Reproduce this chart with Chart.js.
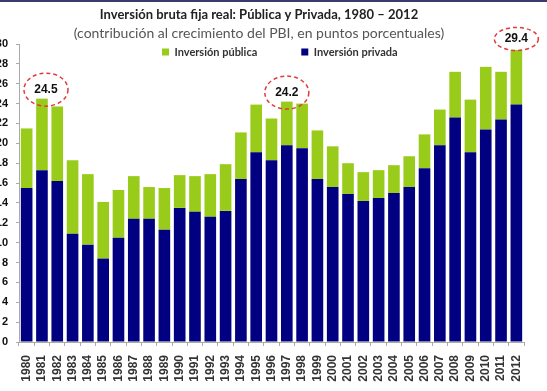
<!DOCTYPE html>
<html>
<head>
<meta charset="utf-8">
<script src="https://cdn.jsdelivr.net/npm/chart.js@4.4.1/dist/chart.umd.min.js"></script>
<style>
  html, body { margin: 0; padding: 0; background: #fff; overflow: hidden; }
  #wrap { width: 547px; height: 389px; border-top: 2px solid #3b3b6b; overflow: hidden; position: relative; }
  #chart { position: absolute; left: -6px; top: 0; }
</style>
</head>
<body>
<div id="wrap"><canvas id="chart" width="553" height="389"></canvas></div>
<script>
// Data
const years = ["1980","1981","1982","1983","1984","1985","1986","1987","1988","1989",
  "1990","1991","1992","1993","1994","1995","1996","1997","1998","1999",
  "2000","2001","2002","2003","2004","2005","2006","2007","2008","2009",
  "2010","2011","2012"];

const privada = [15.5,17.3,16.2,10.9,9.8,8.4,10.5,12.4,12.4,11.3,
  13.5,13.1,12.6,13.2,16.4,19.1,18.3,19.8,19.5,16.4,
  15.6,14.9,14.2,14.5,15.0,15.6,17.5,19.8,22.6,19.1,
  21.4,22.4,23.9];

const publica = [6.0,7.2,7.5,7.4,7.1,5.7,4.8,4.3,3.2,4.2,
  3.3,3.6,4.3,4.7,4.7,4.8,4.2,4.4,4.5,4.9,
  4.1,3.1,2.9,2.8,2.8,3.1,3.4,3.6,4.6,5.3,
  6.3,4.8,5.5];

const yTicks = [0,2,4,6,8,10,12,14,16,18,20,22,24,26,28,30];
const highlightYears = ["1981","1997","2012"];

const titleText = "Inversión bruta fija real: Pública y Privada, 1980 – 2012";
const subtitleText = "(contribución al crecimiento del PBI, en puntos porcentuales)";

// Legend overlaps the top of the plot in the original slide:
// let it take no room in the layout, then place it before drawing
const legendOverPlot = {
  id: "legendOverPlot",
  beforeLayout(chart) {
    const lg = chart.legend;
    if (!lg || lg.$flat) return;
    lg.$flat = true;
    const origFit = lg.fit;
    lg.fit = function () {
      origFit.call(this);
      this.height = 0;
    };
  },
  beforeDraw(chart) {
    const lg = chart.legend;
    if (!lg) return;
    const pad = lg.options.labels.padding;
    const fs = lg.options.labels.font.size;
    lg.left = 168 - pad;
    lg.right = chart.width;
    lg.width = lg.right - lg.left;
    lg.top = 50 - pad - fs / 2;
    lg.height = 2 * pad + fs + 2;
    lg.bottom = lg.top + lg.height;
  }
};

// Dashed red ellipses with the peak totals
const peakLabels = {
  id: "peakLabels",
  afterDatasetsDraw(chart) {
    const ctx = chart.ctx;
    const meta = chart.getDatasetMeta(1);
    highlightYears.forEach(function (yr) {
      const i = years.indexOf(yr);
      const bar = meta.data[i];
      if (!bar) return;
      const total = (privada[i] + publica[i]).toFixed(1);
      const last = i === years.length - 1;
      const cx = bar.x + (i === 1 ? 4 : 0);
      const cy = bar.y - (last ? 11 : 9);
      const rx = 22;
      const ry = last ? 11.5 : 16.5;

      ctx.save();
      ctx.font = "bold 12px 'Liberation Sans', Arial, sans-serif";
      ctx.fillStyle = "#111";
      ctx.textAlign = "center";
      ctx.textBaseline = "middle";
      ctx.fillText(total, cx, cy);

      ctx.strokeStyle = "#e23a3a";
      ctx.lineWidth = 1.5;
      ctx.setLineDash([4, 3]);
      ctx.beginPath();
      ctx.ellipse(cx, cy, rx, ry, 0, 0, Math.PI * 2);
      ctx.stroke();
      ctx.restore();
    });
  }
};

document.addEventListener("DOMContentLoaded", function () {
  const canvas = document.getElementById("chart");
  if (!canvas) {
    console.error("canvas not found");
    return;
  }

  new Chart(canvas.getContext("2d"), {
    type: "bar",
    data: {
      labels: years,
      datasets: [
        {
          label: "Inversión privada",
          data: privada,
          backgroundColor: "#000080",
          borderWidth: 0
        },
        {
          label: "Inversión pública",
          data: publica,
          backgroundColor: "#99cc1a",
          borderWidth: 0
        }
      ]
    },
    options: {
      responsive: false,
      animation: false,
      layout: { padding: { left: 0, right: 23, top: 0, bottom: 0 } },
      datasets: {
        bar: { categoryPercentage: 1.0, barPercentage: 0.76 }
      },
      plugins: {
        title: {
          display: true,
          text: titleText,
          color: "#222",
          font: { family: "Lato, 'Open Sans', sans-serif", size: 13, weight: "bold" },
          padding: { top: 5, bottom: 2 }
        },
        subtitle: {
          display: true,
          text: subtitleText,
          color: "#555",
          font: { family: "Lato, 'Open Sans', sans-serif", size: 14, weight: "normal" },
          padding: { top: 0, bottom: 2.6 }
        },
        legend: {
          display: true,
          position: "top",
          align: "start",
          reverse: true,
          labels: {
            boxWidth: 7,
            boxHeight: 7,
            padding: 44,
            color: "#333",
            font: { family: "Lato, 'Open Sans', sans-serif", size: 11, weight: "bold" }
          }
        },
        tooltip: { enabled: false }
      },
      scales: {
        x: {
          stacked: true,
          grid: { display: true, drawOnChartArea: false, tickLength: 4, color: "#aaa" },
          border: { color: "#aaa" },
          ticks: {
            autoSkip: false,
            minRotation: 90,
            maxRotation: 90,
            padding: 9,
            color: "#333",
            font: { family: "'Liberation Sans', Arial, sans-serif", size: 12, weight: "bold" }
          },
          afterFit: function (scale) { scale.height = 49; }
        },
        y: {
          stacked: true,
          min: 0,
          max: 30,
          grid: { display: true, drawOnChartArea: false, tickLength: 3, color: "#aaa" },
          border: { color: "#aaa" },
          afterBuildTicks: function (scale) {
            scale.ticks = yTicks.map(function (v) { return { value: v }; });
          },
          ticks: {
            padding: 8,
            color: "#111",
            font: { family: "'Liberation Sans', Arial, sans-serif", size: 11, weight: "bold" }
          },
          afterFit: function (scale) { scale.width = 25; }
        }
      }
    },
    plugins: [legendOverPlot, peakLabels]
  });
});
</script>
</body>
</html>
